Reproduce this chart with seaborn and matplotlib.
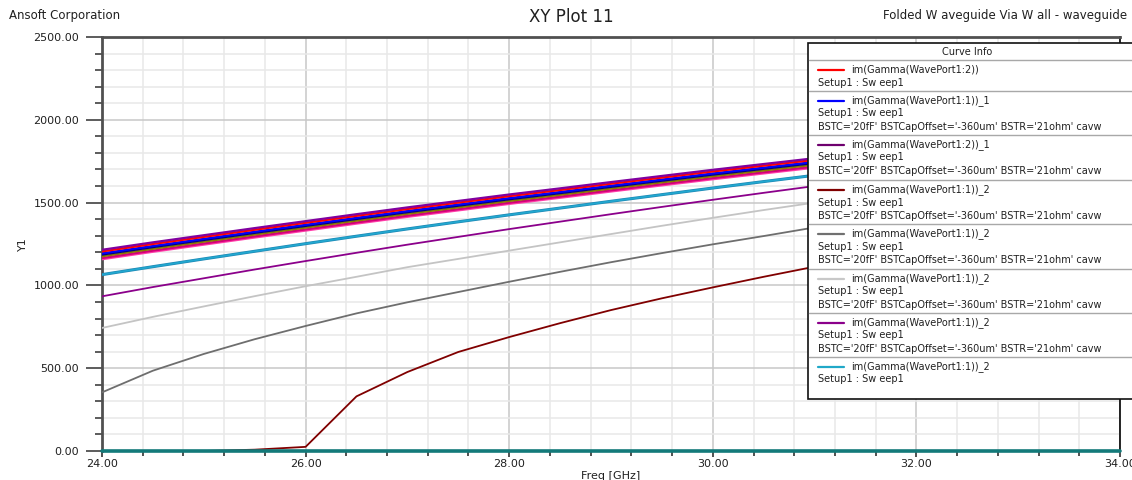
import matplotlib
matplotlib.use("Agg")
import matplotlib.pyplot as plt
from matplotlib.ticker import MultipleLocator, FormatStrFormatter
from matplotlib.lines import Line2D
from matplotlib.patches import Rectangle
import pandas as pd
import seaborn as sns

# Sweep frequencies (GHz)
freq = [24.0, 24.5, 25.0, 25.5, 26.0, 26.5, 27.0, 27.5, 28.0, 28.5, 29.0,
        29.5, 30.0, 30.5, 31.0, 31.5, 32.0, 32.5, 33.0, 33.5, 34.0]

# im(Gamma) traces
port2_purple = [1215, 1260, 1303, 1346, 1388, 1430, 1471, 1510, 1549, 1586, 1624,
                1661, 1698, 1733, 1768, 1803, 1837, 1871, 1904, 1937, 1969]
port2_red = [1205, 1250, 1293, 1336, 1378, 1420, 1461, 1500, 1539, 1576, 1614,
             1651, 1688, 1723, 1758, 1793, 1827, 1861, 1894, 1927, 1959]
port1_blue = [1193, 1238, 1281, 1324, 1366, 1408, 1449, 1488, 1527, 1564, 1602,
              1639, 1676, 1711, 1746, 1781, 1815, 1849, 1882, 1915, 1947]
port1_navy = [1186, 1231, 1274, 1317, 1359, 1401, 1442, 1481, 1520, 1557, 1595,
              1632, 1669, 1704, 1739, 1774, 1808, 1842, 1875, 1908, 1940]
port1_olive = [1176, 1221, 1264, 1307, 1349, 1391, 1432, 1471, 1510, 1547, 1585,
               1622, 1659, 1694, 1729, 1764, 1798, 1832, 1865, 1898, 1930]
port1_deeppink = [1165, 1210, 1253, 1296, 1338, 1380, 1421, 1460, 1499, 1536, 1574,
                  1611, 1648, 1683, 1718, 1753, 1787, 1821, 1854, 1887, 1919]
port1_pink = [1158, 1203, 1246, 1289, 1331, 1373, 1414, 1453, 1492, 1529, 1567,
              1604, 1641, 1676, 1711, 1746, 1780, 1814, 1847, 1880, 1912]
port1_cyan = [1065, 1113, 1160, 1206, 1252, 1297, 1341, 1384, 1426, 1467, 1508,
              1548, 1588, 1627, 1665, 1703, 1740, 1777, 1813, 1849, 1884]
port1_violet = [934, 990, 1043, 1096, 1147, 1197, 1246, 1293, 1340, 1385, 1430,
                1474, 1517, 1559, 1600, 1640, 1680, 1719, 1757, 1795, 1832]
port1_silver = [743, 810, 873, 935, 995, 1052, 1110, 1160, 1210, 1260, 1310,
                1360, 1408, 1455, 1500, 1545, 1590, 1633, 1676, 1718, 1760]
port1_gray = [354, 485, 586, 675, 755, 831, 898, 960, 1022, 1082, 1140,
              1195, 1248, 1298, 1350, 1400, 1448, 1494, 1540, 1584, 1627]
port1_maroon = [0, 0, 0, 8, 25, 330, 477, 598, 688, 772, 851,
                922, 988, 1052, 1113, 1172, 1228, 1283, 1336, 1387, 1437]
port_zero = [0, 0, 0, 0, 0, 0, 0, 0, 0, 0, 0,
             0, 0, 0, 0, 0, 0, 0, 0, 0, 0]

# Curve Info entries
legend_names = ["im(Gamma(WavePort1:2))", "im(Gamma(WavePort1:1))_1",
                "im(Gamma(WavePort1:2))_1", "im(Gamma(WavePort1:1))_2",
                "im(Gamma(WavePort1:1))_2", "im(Gamma(WavePort1:1))_2",
                "im(Gamma(WavePort1:1))_2", "im(Gamma(WavePort1:1))_2"]
legend_colors = ["#ff0000", "#0000ff", "#6e006e", "#800000",
                 "#707070", "#c8c8c8", "#8b008b", "#20a8c8"]
legend_params = [False, True, True, True, True, True, True, False]
setup_text = "Setup1 : Sw eep1"
param_text = "BSTC='20fF' BSTCapOffset='-360um' BSTR='21ohm' cavw"

sns.set_style("white")
plt.rcParams["font.family"] = ["DejaVu Sans"]

W, H = 1132, 480
fig = plt.figure(figsize=(W / 100, H / 100), dpi=100)
ax = fig.add_axes([102 / W, 1 - 451 / H, (1120 - 102) / W, (451 - 37) / H])

def draw(values, color, lw, clip=True):
    df = pd.DataFrame({"Freq": freq, "Y1": values})
    sns.lineplot(data=df, x="Freq", y="Y1", color=color, linewidth=lw, ax=ax,
                 clip_on=clip, zorder=3)

draw(port_zero, "#ff0000", 1.2, clip=False)
draw(port1_maroon, "#800000", 1.3)
draw(port1_gray, "#6e6e6e", 1.3)
draw(port1_silver, "#c4c4c4", 1.3)
draw(port1_violet, "#8b008b", 1.3)
draw(port1_cyan, "#1e88b4", 2.2)
draw(port1_cyan, "#22a8d0", 1.2)
draw(port1_pink, "#ff3ca8", 1.6)
draw(port1_deeppink, "#d4007a", 1.6)
draw(port1_olive, "#8a7a00", 1.6)
draw(port1_navy, "#000080", 1.6)
draw(port1_blue, "#0000ff", 1.6)
draw(port2_red, "#ff0000", 1.6)
draw(port2_purple, "#8000a0", 1.6)
draw(port_zero, "#137a7a", 2.6, clip=False)

ax.set_xlim(24, 34)
ax.set_ylim(0, 2500)
ax.xaxis.set_major_locator(MultipleLocator(2))
ax.xaxis.set_minor_locator(MultipleLocator(0.4))
ax.yaxis.set_major_locator(MultipleLocator(500))
ax.yaxis.set_minor_locator(MultipleLocator(100))
ax.xaxis.set_major_formatter(FormatStrFormatter("%.2f"))
ax.yaxis.set_major_formatter(FormatStrFormatter("%.2f"))

ax.grid(which="minor", color="#e8e8e8", linewidth=1.1, zorder=0)
ax.grid(which="major", color="#c8c8c8", linewidth=1.1, zorder=0)
ax.set_axisbelow(True)

ax.tick_params(axis="y", which="major", direction="out", length=11.5, width=1.1,
               color="#303030", pad=5, labelsize=8, labelcolor="#202020", left=True)
ax.tick_params(axis="y", which="minor", direction="out", length=5, width=1.1,
               color="#303030", left=True)
ax.tick_params(axis="x", which="major", direction="out", length=4.5, width=1.1,
               color="#202020", pad=1.5, labelsize=8, labelcolor="#202020", bottom=True)
ax.tick_params(axis="x", which="minor", direction="out", length=3.5, width=1.1,
               color="#202020", bottom=True)

for side, col, lw in [("left", "#505050", 2.0), ("top", "#505050", 2.0),
                      ("right", "#000000", 1.2), ("bottom", "#505050", 1.5)]:
    ax.spines[side].set_visible(True)
    ax.spines[side].set_color(col)
    ax.spines[side].set_linewidth(lw)

ax.set_xlabel("Freq [GHz]", fontsize=8, labelpad=1, color="#202020")
ax.set_ylabel("Y1", fontsize=8, labelpad=4, color="#202020")

def fy(y):
    return 1 - y / H

def fx(x):
    return x / W

fig.text(fx(9), fy(15), "Ansoft Corporation", fontsize=8.5, va="center", ha="left",
         color="#202020")
fig.text(fx(571), fy(17), "XY Plot 11", fontsize=12, va="center", ha="center",
         color="#202020")
fig.text(fx(1127), fy(15), "Folded W aveguide Via W all - waveguide", fontsize=8.5,
         va="center", ha="right", color="#202020")

# Curve Info box
box_left, box_top, box_bottom, box_right = 808, 43, 399, 1145
fig.add_artist(Rectangle((fx(box_left), fy(box_bottom)), fx(box_right - box_left),
                         (box_bottom - box_top) / H, transform=fig.transFigure,
                         facecolor="white", edgecolor="#101010", linewidth=1.2,
                         zorder=10, clip_on=False))
fig.text(fx(967), fy(52), "Curve Info", fontsize=7, ha="center", va="center",
         color="#202020", zorder=11)

separators = [60, 91, 135, 180, 224, 269, 313, 357]
for i, sep in enumerate(separators):
    fig.add_artist(Line2D([fx(box_left + 1), fx(box_right)], [fy(sep), fy(sep)],
                          transform=fig.transFigure, color="#a8a8a8", linewidth=1.0,
                          zorder=11))
    name_y = sep + 10
    fig.add_artist(Line2D([fx(818), fx(844)], [fy(name_y), fy(name_y)],
                          transform=fig.transFigure, color=legend_colors[i],
                          linewidth=1.6, zorder=11))
    fig.text(fx(851), fy(name_y), legend_names[i], fontsize=7, ha="left",
             va="center", color="#202020", zorder=11)
    fig.text(fx(818), fy(sep + 22.5), setup_text, fontsize=7, ha="left",
             va="center", color="#202020", zorder=11)
    if legend_params[i]:
        fig.text(fx(818), fy(sep + 36), param_text, fontsize=7, ha="left",
                 va="center", color="#202020", zorder=11)

fig.savefig("out.png", dpi=100)
